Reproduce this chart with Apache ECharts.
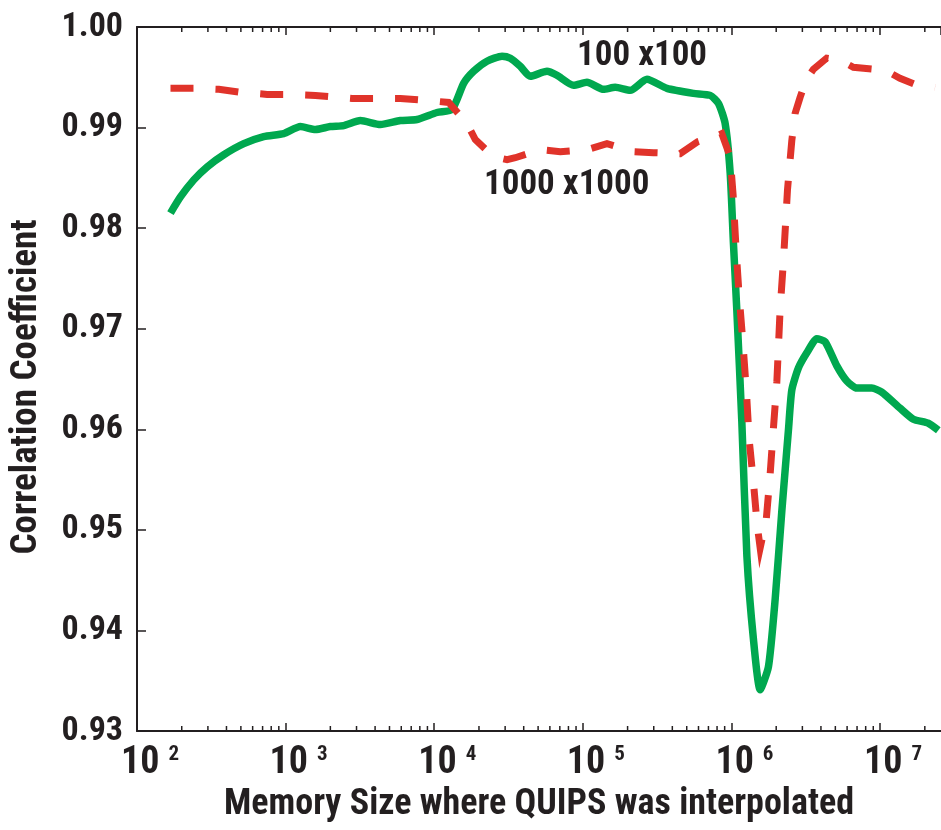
<!DOCTYPE html>
<html>
<head>
<meta charset="utf-8">
<script src="https://cdn.jsdelivr.net/npm/echarts@6/dist/echarts.min.js"></script>
<style>
html,body{margin:0;padding:0;background:#fff;}
#chart{width:941px;height:830px;}
</style>
</head>
<body>
<div id="chart"></div>
<script>
// ---- data ----
var green100X = [168, 196, 241, 297, 384, 523, 712, 971, 1258, 1587, 2000, 2460, 3185, 4340, 5916, 7660,
  10440, 13180, 15770, 18410, 22650, 28580, 32500, 37930, 44260, 57370, 66970, 86560, 106600, 137800, 165100, 208300,
  269900, 368000, 555000, 719000, 818000, 907000, 980000, 1031000, 1086000, 1174000, 1270000, 1406000, 1560000, 1774000, 1968000, 2183000,
  2417000, 2547000, 2823000, 3214000, 3750000, 4266000, 5117000, 5971000, 6968000, 8790000, 10260000, 13620000, 16740000, 21130000, 24660000];
var green100Y = [0.9815, 0.9831, 0.9848, 0.9861, 0.9873, 0.9884, 0.9891, 0.9894, 0.9901, 0.9898, 0.9901, 0.9902, 0.9907, 0.9903, 0.9907, 0.9908,
  0.9915, 0.9918, 0.9944, 0.9956, 0.9966, 0.9971, 0.9969, 0.9961, 0.9951, 0.9956, 0.9952, 0.9942, 0.9945, 0.9938, 0.9940, 0.9937,
  0.9948, 0.9939, 0.9934, 0.9932, 0.9924, 0.9904, 0.9855, 0.9785, 0.9719, 0.9608, 0.9474, 0.9391, 0.9341, 0.9364, 0.9431, 0.9519,
  0.9599, 0.9639, 0.9661, 0.9676, 0.9690, 0.9687, 0.9663, 0.9648, 0.9641, 0.9641, 0.9637, 0.9621, 0.9610, 0.9606, 0.9599];

var red1000X = [168, 241, 355, 497, 751, 1050, 1587, 2800, 4226, 5916, 8950, 12500, 16630, 18900, 25100, 30900,
  35100, 51700, 70500, 106600, 145300, 219300, 298600, 451500, 593000, 683000, 780000, 861000, 980000, 1026000, 1075000, 1125000,
  1197000, 1265000, 1315000, 1410000, 1489000, 1560000, 1714000, 1820000, 1918000, 2020000, 2125000, 2239000, 2382000, 2547000, 2680000, 2896000,
  3177000, 3556000, 4375000, 5380000, 6610000, 9250000, 11140000, 13620000, 18570000, 23440000];
var red1000Y = [0.9939, 0.9939, 0.9938, 0.9935, 0.9933, 0.9933, 0.9932, 0.9929, 0.9929, 0.9929, 0.9927, 0.9925, 0.9904, 0.9888, 0.9871, 0.9868,
  0.9870, 0.9878, 0.9876, 0.9878, 0.9884, 0.9876, 0.9875, 0.9874, 0.9886, 0.9889, 0.9891, 0.9894, 0.9871, 0.9833, 0.9778, 0.9734,
  0.9684, 0.9634, 0.9590, 0.9545, 0.9505, 0.9482, 0.9510, 0.9555, 0.9602, 0.9647, 0.9719, 0.9768, 0.9838, 0.9887, 0.9914, 0.9930,
  0.9947, 0.9958, 0.9969, 0.9967, 0.9960, 0.9958, 0.9956, 0.9949, 0.9941, 0.9940];

var xMin = 100, xMax = 2.57e7;
var yMin = 0.93, yMax = 1.00, yStep = 0.01;
var decadeTicks = [100, 1000, 10000, 100000, 1000000, 10000000];
var minorMultipliers = [2, 3, 4, 5, 6, 7, 8, 9];
var labelGreen = '100 x100';
var labelRed = '1000 x1000';
var xTitle = 'Memory Size where QUIPS was interpolated';
var yTitle = 'Correlation Coefficient';

// ---- build ----
function pairs(xs, ys) { var o = []; for (var i = 0; i < xs.length; i++) o.push([xs[i], ys[i]]); return o; }
var minorTicks = [];
decadeTicks.forEach(function (d) {
  minorMultipliers.forEach(function (m) { if (d * m <= xMax) minorTicks.push([d * m, yMin]); });
});

var FONT = '"Roboto Condensed", "Open Sans Condensed", "Liberation Sans", Arial, sans-serif';
var INK = '#231f20';

var chart = echarts.init(document.getElementById('chart'), null, { renderer: 'canvas' });
var option = {
  backgroundColor: '#ffffff',
  animation: false,
  grid: { left: 136.5, right: 0, top: 27, bottom: 99, containLabel: false },
  xAxis: [{
    type: 'log', logBase: 10, min: xMin, max: xMax, position: 'bottom',
    axisLine: { show: true, onZero: false, lineStyle: { color: INK, width: 2 } },
    axisTick: { show: true, inside: true, length: 8, lineStyle: { color: INK, width: 1.5 } },
    splitLine: { show: false },
    axisLabel: {
      show: true, margin: 13, color: INK, showMaxLabel: false,
      padding: [0, 0, 0, 26],
      formatter: function (v) {
        var e = Math.log(v) / Math.LN10;
        var r = Math.round(e);
        if (Math.abs(e - r) > 1e-6) return '';
        return '{b|10}{e|' + r + '}';
      },
      rich: {
        b: { fontFamily: FONT, fontWeight: 'bold', fontSize: 38, color: INK, lineHeight: 38 },
        e: { fontFamily: FONT, fontWeight: 'bold', fontSize: 21, color: INK, verticalAlign: 'top', lineHeight: 38, padding: [0, 0, 0, 9] }
      }
    },
    name: xTitle, nameLocation: 'middle', nameGap: 56,
    nameTextStyle: { fontFamily: FONT, fontWeight: 'bold', fontSize: 36, color: INK }
  }, {
    type: 'log', logBase: 10, min: xMin, max: xMax, position: 'top',
    axisLine: { show: true, onZero: false, lineStyle: { color: INK, width: 2 } },
    axisTick: { show: true, inside: true, length: 8, lineStyle: { color: INK, width: 1.5 } },
    axisLabel: { show: false }, splitLine: { show: false }
  }],
  yAxis: {
    type: 'value', min: yMin, max: yMax, interval: yStep,
    axisLine: { show: true, onZero: false, lineStyle: { color: INK, width: 2 } },
    axisTick: { show: true, inside: true, length: 9, lineStyle: { color: INK, width: 1.5 } },
    splitLine: { show: false },
    axisLabel: {
      margin: 14, color: INK, fontFamily: FONT, fontWeight: 'bold', fontSize: 34,
      formatter: function (v) { return v.toFixed(2); }
    },
    name: yTitle, nameLocation: 'middle', nameGap: 92,
    nameTextStyle: { fontFamily: FONT, fontWeight: 'bold', fontSize: 37, color: INK, padding: [0, 16, 0, 0] }
  },
  graphic: [
    { type: 'text', left: 577, top: 39, z: 100, style: { text: labelGreen, fill: INK, font: 'bold 35px ' + FONT } },
    { type: 'text', left: 484, top: 168, z: 100, style: { text: labelRed, fill: INK, font: 'bold 35px ' + FONT } }
  ],
  series: [{
    name: labelGreen, type: 'line', data: pairs(green100X, green100Y), showSymbol: false, symbol: 'none',
    smooth: 0.2,
    lineStyle: { color: '#00a84f', width: 7.5, cap: 'butt', join: 'round' }, z: 3
  }, {
    name: labelRed, type: 'line', data: pairs(red1000X, red1000Y), showSymbol: false, symbol: 'none',
    lineStyle: { color: '#e0332a', width: 7, type: [23, 22], cap: 'butt', join: 'miter' }, z: 4
  }, {
    type: 'custom', data: minorTicks, silent: true, clip: false, z: 10,
    renderItem: function (params, api) {
      var v = api.value(0);
      var pb = api.coord([v, yMin]);
      var pt = api.coord([v, yMax]);
      var st = { stroke: INK, lineWidth: 1.5 };
      return { type: 'group', children: [
        { type: 'line', shape: { x1: pb[0], y1: pb[1], x2: pb[0], y2: pb[1] - 5 }, style: st },
        { type: 'line', shape: { x1: pt[0], y1: pt[1], x2: pt[0], y2: pt[1] + 5 }, style: st }
      ] };
    }
  }]
};
chart.setOption(option);
</script>
</body>
</html>
